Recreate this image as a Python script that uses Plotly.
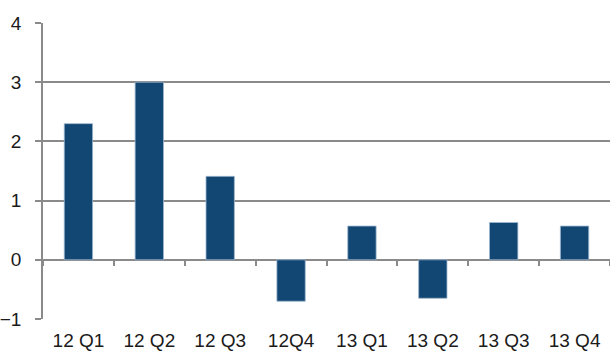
import plotly.graph_objects as go

# Quarterly values
quarters = ["12 Q1", "12 Q2", "12 Q3", "12Q4", "13 Q1", "13 Q2", "13 Q3", "13 Q4"]
values = [2.30, 3.00, 1.41, -0.70, 0.57, -0.65, 0.63, 0.57]

y_ticks = [-1, 0, 1, 2, 3, 4]
y_min, y_max = -1, 4

grid = "#8a8a8a"
bar_color = "#124673"
font = dict(family="Liberation Sans, Arial, sans-serif", size=19, color="#1a1a1a")

fig = go.Figure()
fig.add_trace(go.Bar(
    x=quarters, y=values,
    marker=dict(color=bar_color, line=dict(color="#9db8d0", width=0.8)),
    width=0.4,
))
# Invisible twin trace so the boundary ticks can sit on the zero line
fig.add_trace(go.Bar(x=quarters, y=[None] * len(quarters), xaxis="x2", showlegend=False))

fig.update_layout(
    width=610, height=351,
    margin=dict(l=43, r=0, t=23, b=32),
    paper_bgcolor="white", plot_bgcolor="white",
    showlegend=False,
    font=font,
    xaxis=dict(
        type="category", showgrid=False, zeroline=False, showline=False,
        ticks="", tickfont=font, ticklabelstandoff=8,
    ),
    xaxis2=dict(
        type="category", overlaying="x", matches="x", anchor="free",
        position=(0 - y_min) / (y_max - y_min), side="bottom",
        tickson="boundaries", ticks="outside", ticklen=5, tickwidth=1.5,
        tickcolor=grid, showticklabels=False, showgrid=False, showline=False,
    ),
    yaxis=dict(
        range=[y_min, y_max], tickvals=y_ticks, ticks="outside", ticklen=6,
        tickwidth=1.5, tickcolor=grid, showgrid=True, gridcolor=grid, gridwidth=1.5,
        zeroline=True, zerolinecolor=grid, zerolinewidth=1.5,
        showline=True, linecolor=grid, linewidth=1.5,
        tickfont=font, ticklabelstandoff=10,
    ),
)

fig.write_html("out.html")
